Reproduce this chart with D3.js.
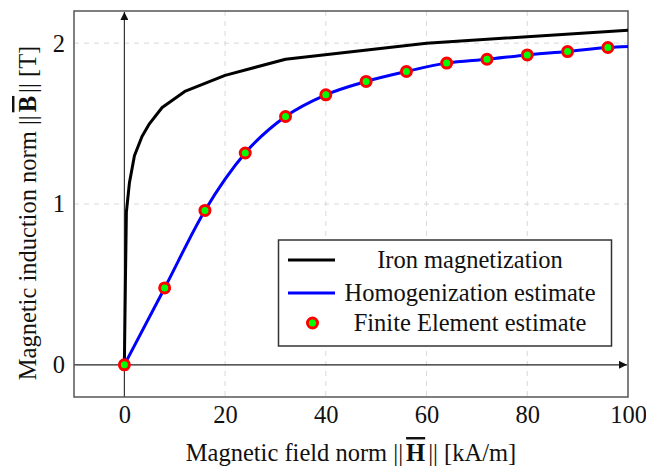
<!DOCTYPE html>
<html><head><meta charset="utf-8">
<script src="https://cdn.jsdelivr.net/npm/d3@7"></script>
<style>body{margin:0;background:#fff}</style>
</head><body><svg id="chart" width="646" height="470"></svg>
<script>
// Data
const ironH = [0, 0.2, 0.4, 1, 2, 3.5, 5, 7.5, 12, 20, 32, 60, 100];
const ironB = [0, 0.5, 0.95, 1.13, 1.3, 1.42, 1.5, 1.6, 1.7, 1.8, 1.9, 2.0, 2.08];
const homH = [0, 8, 16, 24, 32, 40, 48, 56, 64, 72, 80, 88, 96, 100];
const homB = [0, 0.478, 0.96, 1.317, 1.544, 1.679, 1.762, 1.824, 1.876, 1.90, 1.927, 1.948, 1.973, 1.98];
const feH = [0, 8, 16, 24, 32, 40, 48, 56, 64, 72, 80, 88, 96];
const feB = [0, 0.478, 0.96, 1.317, 1.544, 1.679, 1.762, 1.824, 1.876, 1.90, 1.927, 1.948, 1.973];
const xTicks = [0, 20, 40, 60, 80, 100];
const yTicks = [0, 1, 2];
const xGrid = [20, 40, 60, 80];
const yGrid = [1, 2];
const legendLabels = ["Iron magnetization", "Homogenization estimate", "Finite Element estimate"];

const svg = d3.select("#chart");
const L = 74, R = 628, T = 11, B = 397;
const x = d3.scaleLinear().domain([-10, 100]).range([L, R]);
const y = d3.scaleLinear().domain([-0.2, 2.2]).range([B, T]);
const font = "'Liberation Serif', 'Times New Roman', serif";
const fs = 24.5;

// grid
svg.append("g").selectAll("line").data(xGrid).join("line")
  .attr("x1", d => x(d)).attr("x2", d => x(d)).attr("y1", T).attr("y2", B)
  .attr("stroke", "#d9d9d9").attr("stroke-width", 1).attr("stroke-dasharray", "5,5");
svg.append("g").selectAll("line").data(yGrid).join("line")
  .attr("x1", L).attr("x2", R).attr("y1", d => y(d)).attr("y2", d => y(d))
  .attr("stroke", "#d9d9d9").attr("stroke-width", 1).attr("stroke-dasharray", "5,5");

// axes via d3 (labels only)
const xAxis = svg.append("g").attr("transform", `translate(0,${B})`)
  .call(d3.axisBottom(x).tickValues(xTicks).tickSize(0).tickPadding(9).tickFormat(d3.format("d")));
xAxis.select(".domain").remove();
xAxis.selectAll("text").attr("font-family", font).attr("font-size", fs).attr("fill", "#111");
const yAxis = svg.append("g").attr("transform", `translate(${L},0)`)
  .call(d3.axisLeft(y).tickValues(yTicks).tickSize(0).tickPadding(9).tickFormat(d3.format("d")));
yAxis.select(".domain").remove();
yAxis.selectAll("text").attr("font-family", font).attr("font-size", fs).attr("fill", "#111");

// zero axes with arrows
const defs = svg.append("defs");
defs.append("marker").attr("id", "arr").attr("viewBox", "0 0 10 10")
  .attr("refX", 10).attr("refY", 5).attr("markerWidth", 10).attr("markerHeight", 8)
  .attr("markerUnits", "userSpaceOnUse").attr("orient", "auto")
  .append("path").attr("d", "M0,0 L10,5 L0,10 z").attr("fill", "#111");
svg.append("line").attr("x1", x(0)).attr("x2", x(0)).attr("y1", B).attr("y2", T + 1)
  .attr("stroke", "#222").attr("stroke-width", 1.1).attr("marker-end", "url(#arr)");
svg.append("line").attr("x1", L).attr("x2", R - 1).attr("y1", y(0)).attr("y2", y(0))
  .attr("stroke", "#222").attr("stroke-width", 1.1).attr("marker-end", "url(#arr)");

// frame
svg.append("rect").attr("x", L).attr("y", T).attr("width", R - L).attr("height", B - T)
  .attr("fill", "none").attr("stroke", "#555").attr("stroke-width", 1.5);

// lines
const ironData = ironH.map((h, i) => [h, ironB[i]]);
const homData = homH.map((h, i) => [h, homB[i]]);
const line = d3.line().x(d => x(d[0])).y(d => y(d[1]));
svg.append("path").datum(ironData).attr("d", line).attr("fill", "none")
  .attr("stroke", "#000").attr("stroke-width", 3).attr("stroke-linejoin", "round");
svg.append("path").datum(homData).attr("d", line.curve(d3.curveMonotoneX)).attr("fill", "none")
  .attr("stroke", "#0000ff").attr("stroke-width", 3).attr("stroke-linejoin", "round");

// FE markers
svg.append("g").selectAll("circle").data(feH.map((h, i) => [h, feB[i]])).join("circle")
  .attr("cx", d => x(d[0])).attr("cy", d => y(d[1])).attr("r", 5)
  .attr("fill", "#00ff00").attr("stroke", "#ff0000").attr("stroke-width", 3);

// legend
const lg = svg.append("g");
lg.append("rect").attr("x", 278.5).attr("y", 240).attr("width", 333).attr("height", 106)
  .attr("fill", "#fff").attr("stroke", "#333").attr("stroke-width", 1.5);
const rows = [260, 293, 323];
lg.append("line").attr("x1", 288).attr("x2", 335).attr("y1", rows[0]).attr("y2", rows[0])
  .attr("stroke", "#000").attr("stroke-width", 3);
lg.append("line").attr("x1", 288).attr("x2", 335).attr("y1", rows[1]).attr("y2", rows[1])
  .attr("stroke", "#0000ff").attr("stroke-width", 3);
lg.append("circle").attr("cx", 312.5).attr("cy", rows[2]).attr("r", 5)
  .attr("fill", "#00ff00").attr("stroke", "#ff0000").attr("stroke-width", 3);
lg.selectAll("text.lbl").data(legendLabels).join("text").attr("class", "lbl")
  .attr("x", 470).attr("y", (d, i) => rows[i] + 8).attr("text-anchor", "middle")
  .attr("font-family", font).attr("font-size", fs).attr("fill", "#111").text(d => d);

// axis titles
const xt = svg.append("text").attr("x", 351).attr("y", 461).attr("text-anchor", "middle")
  .attr("font-family", font).attr("font-size", fs).attr("fill", "#111");
xt.append("tspan").text("Magnetic field norm ||");
xt.append("tspan").attr("dx", 3).attr("font-weight", "bold").style("text-decoration", "overline").text("H");
xt.append("tspan").attr("dx", 3).text("|| [kA/m]");

const yt = svg.append("text").attr("transform", "translate(36,213) rotate(-90)").attr("text-anchor", "middle")
  .attr("font-family", font).attr("font-size", fs).attr("fill", "#111");
yt.append("tspan").text("Magnetic induction norm ||");
yt.append("tspan").attr("dx", 3).attr("font-weight", "bold").style("text-decoration", "overline").text("B");
yt.append("tspan").attr("dx", 3).text("|| [T]");
</script></body></html>
